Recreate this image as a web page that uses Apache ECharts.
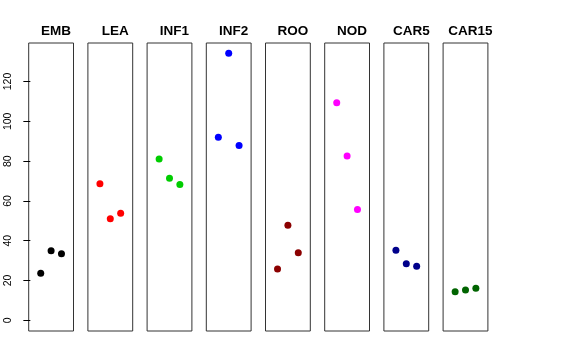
<!DOCTYPE html>
<html><head><meta charset="utf-8">
<script src="https://cdn.jsdelivr.net/npm/echarts@6/dist/echarts.min.js"></script>
<style>html,body{margin:0;padding:0;background:#fff}#c{width:576px;height:360px}</style>
</head><body><div id="c"></div>
<script>
var panels = ["EMB","LEA","INF1","INF2","ROO","NOD","CAR5","CAR15"];
var EMB   = [23.6, 35.0, 33.5];
var LEA   = [68.6, 51.0, 53.8];
var INF1  = [81.1, 71.4, 68.2];
var INF2  = [92.0, 134.2, 87.8];
var ROO   = [25.8, 47.8, 33.9];
var NOD   = [109.3, 82.6, 55.7];
var CAR5  = [35.2, 28.4, 27.2];
var CAR15 = [14.4, 15.3, 16.1];
var xPositions = [1, 2, 3];
var yTicks = [0, 20, 40, 60, 80, 100, 120];
var colors = ["#000000","#FF0000","#00CD00","#0000FF","#8B0000","#FF00FF","#00008B","#006400"];
var values = [EMB, LEA, INF1, INF2, ROO, NOD, CAR5, CAR15];

var grids = [], xAxes = [], yAxes = [], series = [], titles = [];
var left0 = 28.7, step = 59.2, panelW = 44.8, panelTop = 43, panelH = 288;
panels.forEach(function(name, i){
  var l = left0 + i*step;
  grids.push({left: l, top: panelTop, width: panelW, height: panelH, show: true, borderColor: "#333", borderWidth: 1});
  xAxes.push({type: "value", gridIndex: i, min: -0.16, max: 4.16, show: false});
  var ya = {type: "value", gridIndex: i, min: -5.36, max: 139.36, show: false};
  if (i === 0) {
    ya = {type: "value", gridIndex: i, min: -5.36, max: 139.36, show: true,
      splitLine: {show: false}, axisLine: {show: false},
      axisTick: {show: true, length: 7, customValues: yTicks, lineStyle: {color: "#000"}},
      axisLabel: {show: true, rotate: 90, customValues: yTicks, fontSize: 10.5, color: "#000", margin: 15, fontFamily: "Liberation Sans"}
    };
  }
  yAxes.push(ya);
  titles.push({text: name, left: l + panelW/2, top: 19, textAlign: "center",
    textStyle: {fontSize: 13.5, fontWeight: "bold", color: "#000", fontFamily: "Liberation Sans"}});
  series.push({type: "scatter", xAxisIndex: i, yAxisIndex: i, symbolSize: 7,
    itemStyle: {color: colors[i], opacity: 1},
    data: values[i].map(function(v, k){ return [xPositions[k], v]; })});
});

var chart = echarts.init(document.getElementById("c"), null, {renderer: "canvas"});
chart.setOption({animation: false, title: titles, grid: grids, xAxis: xAxes, yAxis: yAxes, series: series});
</script></body></html>
